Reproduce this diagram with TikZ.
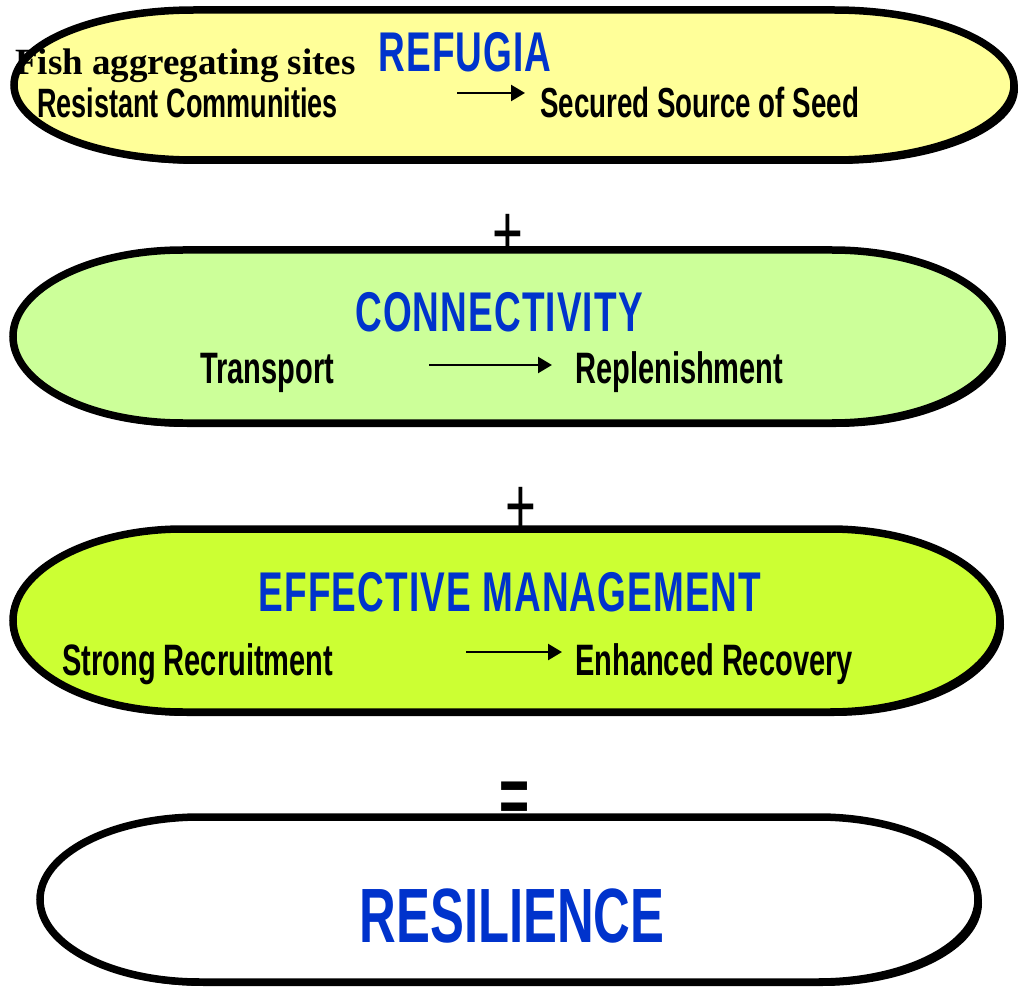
\documentclass[tikz,border=0pt]{standalone}
\usepackage{fontspec}
\setmainfont{Liberation Serif}
\newfontfamily\narrowsf[FakeStretch=0.66]{Liberation Sans}
\newfontfamily\headsf[FakeStretch=0.66,LetterSpace=2]{Liberation Sans}
\usetikzlibrary{arrows.meta,shadows}

\definecolor{refugiafill}{HTML}{FFFF99}
\definecolor{connectfill}{HTML}{CCFF99}
\definecolor{managefill}{HTML}{CCFF33}
\definecolor{titleblue}{HTML}{0033CC}

\tikzset{
  box/.style={draw=black, line width=7.5pt,
    drop shadow={shadow xshift=4pt, shadow yshift=-4pt, fill=black, opacity=1}},
  headtext/.style={inner sep=0pt, anchor=base, text=titleblue,
    font=\headsf\bfseries\fontsize{56}{60}\selectfont},
  itemtext/.style={inner sep=0pt, anchor=base west,
    font=\narrowsf\bfseries\fontsize{44}{48}\selectfont},
  sign/.style={inner sep=0pt, anchor=base},
  flow/.style={line width=2.5pt, -{Triangle[length=14pt,width=16pt]}},
}

\begin{document}
\begin{tikzpicture}[x=1pt,y=-1pt]
\useasboundingbox (0,0) rectangle (1021,987);

% operators between the boxes
\node (plusA) at (508,261) [sign,font=\narrowsf\fontsize{80}{80}\selectfont] {+};
\node (plusB) at (521,533) [sign,font=\narrowsf\fontsize{80}{80}\selectfont] {+};
\node (equals) at (515,822) [sign,font=\narrowsf\bfseries\fontsize{78}{80}\selectfont] {=};

% the four rounded boxes
\path[box,fill=refugiafill] (194,10) -- (834,10)
  arc[start angle=-90,end angle=90,x radius=180,y radius=75] -- (194,160)
  arc[start angle=90,end angle=270,x radius=180,y radius=75] -- cycle;
\path[box,fill=connectfill] (183,250) -- (832,250)
  arc[start angle=-90,end angle=90,x radius=170,y radius=86.5] -- (183,423)
  arc[start angle=90,end angle=270,x radius=170,y radius=86.5] -- cycle;
\path[box,fill=managefill] (183,529) -- (830,529)
  arc[start angle=-90,end angle=90,x radius=170,y radius=91.5] -- (183,712)
  arc[start angle=90,end angle=270,x radius=170,y radius=91.5] -- cycle;
\path[box,fill=white] (200,817) -- (818,817)
  arc[start angle=-90,end angle=90,x radius=160,y radius=82.5] -- (200,982)
  arc[start angle=90,end angle=270,x radius=160,y radius=82.5] -- cycle;

% refugia
\node (fish) at (15,75) [inner sep=0pt,anchor=base west,font=\bfseries\fontsize{37}{40}\selectfont] {Fish aggregating sites};
\node (refugia) at (465,72) [headtext] {REFUGIA};
\node (resist) at (37,118) [itemtext,font=\narrowsf\bfseries\fontsize{41}{46}\selectfont] {Resistant Communities};
\node (seed) at (540,118) [itemtext,font=\narrowsf\bfseries\fontsize{42}{46}\selectfont] {Secured Source of Seed};
\draw[flow,shorten <=119pt,shorten >=15pt] ([yshift=25pt]resist.base east) -- ([yshift=25pt]seed.base west);

% connectivity
\node (connect) at (499,332) [headtext] {CONNECTIVITY};
\node (transport) at (200,383) [itemtext] {Transport};
\node (replen) at (575,383) [itemtext] {Replenishment};
\draw[flow,shorten <=95pt,shorten >=23pt] ([yshift=18pt]transport.base east) -- ([yshift=18pt]replen.base west);

% management
\node (manage) at (510,611) [headtext] {EFFECTIVE MANAGEMENT};
\node (recruit) at (62,675) [itemtext] {Strong Recruitment};
\node (recovery) at (575,675) [itemtext] {Enhanced Recovery};
\draw[flow,shorten <=133pt,shorten >=13pt] ([yshift=23pt]recruit.base east) -- ([yshift=23pt]recovery.base west);

% result
\node (resil) at (512,942) [headtext,font=\narrowsf\bfseries\fontsize{77}{80}\selectfont] {RESILIENCE};
\end{tikzpicture}
\end{document}
